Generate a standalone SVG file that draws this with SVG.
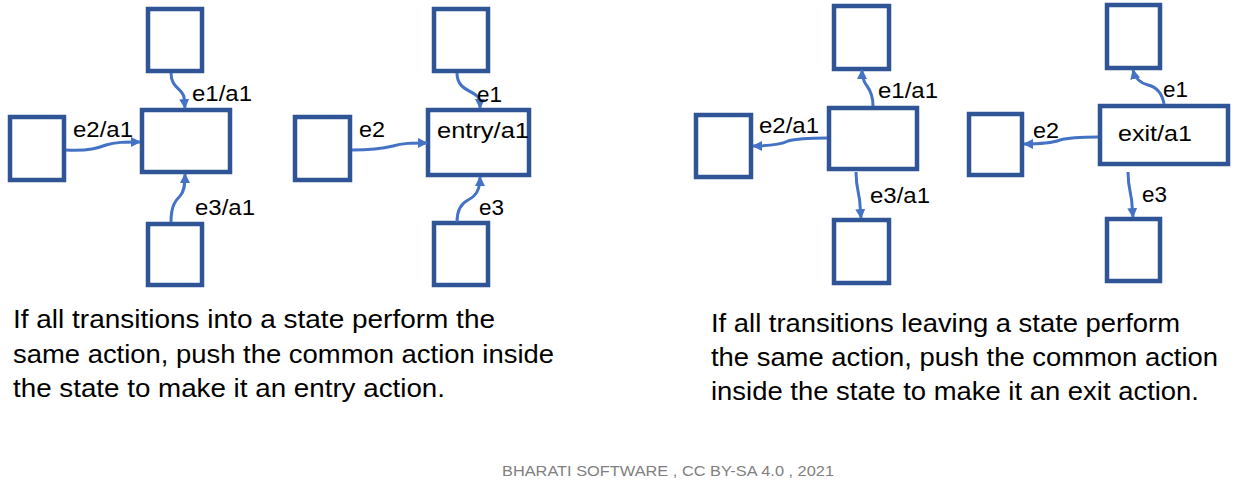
<svg xmlns="http://www.w3.org/2000/svg" width="1237" height="487" viewBox="0 0 1237 487">
<style>
.st{fill:#FFFFFF;stroke:#2F5597;stroke-width:4.5}
.cn{fill:none;stroke:#4472C4;stroke-width:3;marker-end:url(#ah)}
.lb{font-family:"Liberation Sans",Arial,sans-serif;font-size:22.5px;fill:#000000}
.bd{font-family:"Liberation Sans",Arial,sans-serif;font-size:26px;fill:#000000}
.ft{font-family:"Liberation Sans",Arial,sans-serif;font-size:15.5px;fill:#7F7F7F}
</style>
<defs>
<marker id="ah" viewBox="0 0 10 10" refX="9" refY="5" markerUnits="userSpaceOnUse" markerWidth="10" markerHeight="10" orient="auto">
<path d="M0,0 L10,5 L0,10 z" fill="#4472C4"/>
</marker>
</defs>
<rect width="1237" height="487" fill="#FFFFFF"/>

<g id="entry-before">
<rect id="s1-top" class="st" x="148" y="9" width="54" height="62"/>
<rect id="s1-center" class="st" x="142" y="110" width="88" height="62"/>
<rect id="s1-left" class="st" x="10" y="117" width="54" height="63"/>
<rect id="s1-bottom" class="st" x="148" y="224" width="54" height="61"/>
</g>
<g id="entry-after">
<rect id="s2-top" class="st" x="434" y="9" width="54" height="62"/>
<rect id="s2-center" class="st" x="428" y="110" width="101" height="65"/>
<text class="lb" x="437" y="138" textLength="92" lengthAdjust="spacingAndGlyphs">entry/a1</text>
<rect id="s2-left" class="st" x="295" y="117" width="55" height="63"/>
<rect id="s2-bottom" class="st" x="434" y="223" width="54" height="62"/>
</g>
<g id="exit-before">
<rect id="s3-top" class="st" x="834" y="6" width="55" height="63"/>
<rect id="s3-center" class="st" x="829" y="108" width="88" height="61"/>
<rect id="s3-left" class="st" x="696" y="115" width="55" height="62"/>
<rect id="s3-bottom" class="st" x="834" y="220" width="55" height="63"/>
</g>
<g id="exit-after">
<rect id="s4-top" class="st" x="1107" y="5" width="53" height="63"/>
<rect id="s4-center" class="st" x="1100" y="106" width="128" height="58"/>
<text class="lb" x="1118" y="141" textLength="74" lengthAdjust="spacingAndGlyphs">exit/a1</text>
<rect id="s4-left" class="st" x="969" y="114" width="53" height="61"/>
<rect id="s4-bottom" class="st" x="1107" y="219" width="53" height="62"/>
</g>

<g id="connectors">
<path class="cn" d="M171,73 C171,88 182,88 184,97 L185,108"/>
<path class="cn" d="M66,150 C90,151 98,148 106,145 C115,142 125,142 140,142"/>
<path class="cn" d="M171,222 C171,205 176,200 180,196 C184,192 185,186 185,174"/>

<path class="cn" d="M457,73 C457,90 472,90 478,97 C480,100 480,104 480,108"/>
<path class="cn" d="M352,150 C375,150 385,148 393,146 C402,143 412,143 427,143"/>
<path class="cn" d="M457,222 C457,210 462,203 468,200 C476,196 480,190 480,177"/>

<path class="cn" d="M873,106 C873,95 870,90 867,86 C863,81 862,76 862,70"/>
<path class="cn" d="M827,138 C805,138 795,139 788,141 C780,145 770,146 753,146"/>
<path class="cn" d="M856,172 C856,190 860,195 860,205 L861,218"/>

<path class="cn" d="M1164,104 C1162,92 1156,87 1148,85 C1140,83 1135,78 1133,70"/>
<path class="cn" d="M1098,137 C1075,137 1067,138 1060,140 C1052,143 1040,144 1024,144"/>
<path class="cn" d="M1128,172 C1128,190 1132,195 1132,205 L1133,217"/>

<text class="lb" x="192" y="101" textLength="60" lengthAdjust="spacingAndGlyphs">e1/a1</text>
<text class="lb" x="73" y="137" textLength="60" lengthAdjust="spacingAndGlyphs">e2/a1</text>
<text class="lb" x="195" y="215" textLength="60" lengthAdjust="spacingAndGlyphs">e3/a1</text>
<text class="lb" x="477" y="102" textLength="25" lengthAdjust="spacingAndGlyphs">e1</text>
<text class="lb" x="359" y="137" textLength="26" lengthAdjust="spacingAndGlyphs">e2</text>
<text class="lb" x="479" y="215" textLength="25" lengthAdjust="spacingAndGlyphs">e3</text>
<text class="lb" x="878" y="98" textLength="60" lengthAdjust="spacingAndGlyphs">e1/a1</text>
<text class="lb" x="759" y="133" textLength="60" lengthAdjust="spacingAndGlyphs">e2/a1</text>
<text class="lb" x="870" y="203" textLength="60" lengthAdjust="spacingAndGlyphs">e3/a1</text>
<text class="lb" x="1163" y="97" textLength="25" lengthAdjust="spacingAndGlyphs">e1</text>
<text class="lb" x="1033" y="138" textLength="26" lengthAdjust="spacingAndGlyphs">e2</text>
<text class="lb" x="1142" y="202" textLength="25" lengthAdjust="spacingAndGlyphs">e3</text>
</g>

<g id="caption-entry">
<text class="bd" x="13" y="328" textLength="482" lengthAdjust="spacingAndGlyphs">If all transitions into a state perform the</text>
<text class="bd" x="13" y="363" textLength="541" lengthAdjust="spacingAndGlyphs">same action, push the common action inside</text>
<text class="bd" x="13" y="397" textLength="432" lengthAdjust="spacingAndGlyphs">the state to make it an entry action.</text>
</g>
<g id="caption-exit">
<text class="bd" x="711" y="332" textLength="469" lengthAdjust="spacingAndGlyphs">If all transitions leaving a state perform</text>
<text class="bd" x="711" y="366" textLength="507" lengthAdjust="spacingAndGlyphs">the same action, push the common action</text>
<text class="bd" x="711" y="400" textLength="488" lengthAdjust="spacingAndGlyphs">inside the state to make it an exit action.</text>
</g>
<text id="footer" class="ft" x="502" y="476" textLength="332" lengthAdjust="spacingAndGlyphs">BHARATI SOFTWARE , CC BY-SA 4.0 , 2021</text>
</svg>
